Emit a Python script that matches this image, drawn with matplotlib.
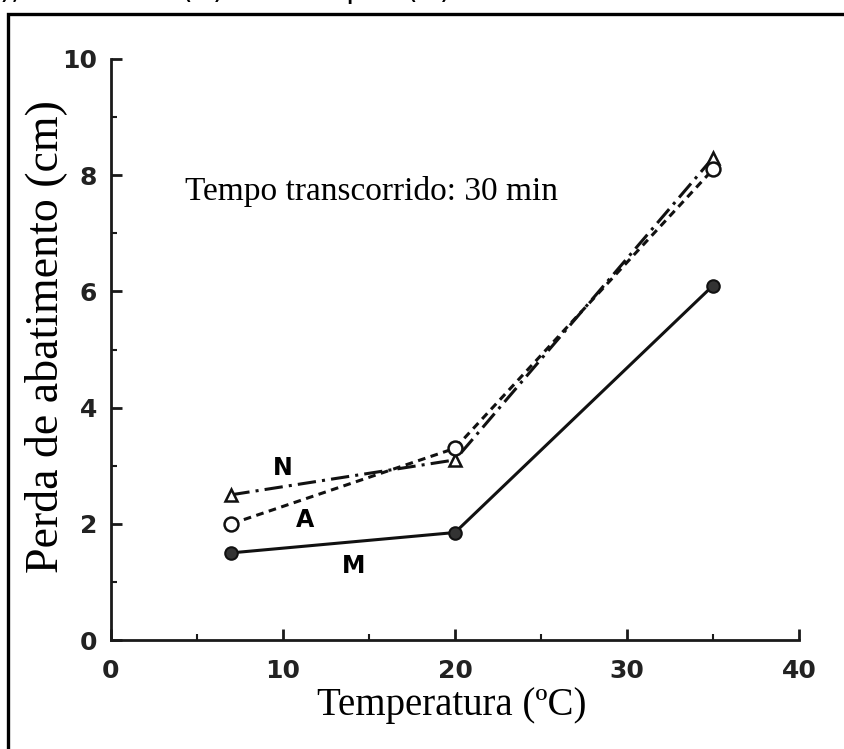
import numpy as np
import matplotlib.pyplot as plt
from matplotlib.patches import Rectangle
from matplotlib.ticker import MultipleLocator

# perda de abatimento do concreto após 30 min, por tipo de cimento
temperaturas = [7, 20, 35]
perda_N = [2.5, 3.1, 8.3]
perda_A = [2.0, 3.3, 8.1]
perda_M = [1.5, 1.85, 6.1]

rotulos_x = ['0', '10', '20', '30', '40']
rotulos_y = ['0', '2', '4', '6', '8', '10']

serif = 'Liberation Serif'
sans = 'DejaVu Sans'

fig = plt.figure(figsize=(8.45, 7.49), dpi=100)
fig.patch.set_facecolor('white')

# moldura (cortada à direita e embaixo)
fig.patches.append(Rectangle((8 / 845, -0.05), 1.2, 1 - 14 / 749 + 0.05,
                             transform=fig.transFigure, fill=False,
                             edgecolor='black', linewidth=2.4))

# resto da legenda da linha de cima, quase toda fora da figura
for x, t in [(0.0, '),'), (180, '(A)'), (345, 'p'), (405, '(N)')]:
    fig.text(x / 845, 1 + 1.5 / 749, t, fontsize=22, family=sans,
             va='baseline', ha='left')

ax = fig.add_axes([111 / 845, 1 - 640 / 749, 688 / 845, 581 / 749])
ax.set_xlim(0, 40)
ax.set_ylim(0, 10)

ax.plot(temperaturas, perda_N, color='#111111', lw=2.2,
        linestyle=(0, (6, 2, 1, 2)), marker='^', markersize=9,
        markerfacecolor='white', markeredgecolor='#111111', markeredgewidth=1.8)
ax.plot(temperaturas, perda_A, color='#111111', lw=2.2,
        linestyle=(0, (2.5, 1.8)), marker='o', markersize=10,
        markerfacecolor='white', markeredgecolor='#111111', markeredgewidth=1.8)
ax.plot(temperaturas, perda_M, color='#111111', lw=2.2, linestyle='-',
        marker='o', markersize=9, markerfacecolor='#333333',
        markeredgecolor='#111111', markeredgewidth=1.5)

ax.text(10.0, 2.96, 'N', fontsize=17, fontweight='bold', family=sans,
        ha='center', va='center')
ax.text(11.3, 2.07, 'A', fontsize=17, fontweight='bold', family=sans,
        ha='center', va='center')
ax.text(14.1, 1.27, 'M', fontsize=17, fontweight='bold', family=sans,
        ha='center', va='center')

ax.text(4.3, 7.58, 'Tempo transcorrido: 30 min', fontsize=24, family=serif,
        ha='left', va='baseline')

for s in ['top', 'right']:
    ax.spines[s].set_visible(False)
for s in ['left', 'bottom']:
    ax.spines[s].set_linewidth(2.0)
    ax.spines[s].set_color('#1a1a1a')

ax.set_xticks(np.arange(0, 41, 10))
ax.set_xticklabels(rotulos_x)
ax.set_yticks(np.arange(0, 11, 2))
ax.set_yticklabels(rotulos_y)
ax.xaxis.set_minor_locator(MultipleLocator(5))
ax.yaxis.set_minor_locator(MultipleLocator(1))

ax.tick_params(which='major', direction='in', length=8, width=2.0,
               color='#1a1a1a', labelsize=18)
ax.tick_params(which='minor', direction='in', length=4, width=1.5,
               color='#1a1a1a')
ax.tick_params(axis='x', which='major', pad=14)
ax.tick_params(axis='y', which='major', pad=10)
for lbl in ax.get_xticklabels() + ax.get_yticklabels():
    lbl.set_fontweight('bold')
    lbl.set_family(sans)
    lbl.set_color('#222222')

fig.text(452 / 845, 1 - 706 / 749, 'Temperatura (ºC)', fontsize=28,
         family=serif, ha='center', va='center')
fig.text(46 / 845, 1 - 337 / 749, 'Perda de abatimento (cm)', fontsize=33,
         family=serif, ha='center', va='center', rotation=90)

fig.savefig('out.png', dpi=100, facecolor='white')
